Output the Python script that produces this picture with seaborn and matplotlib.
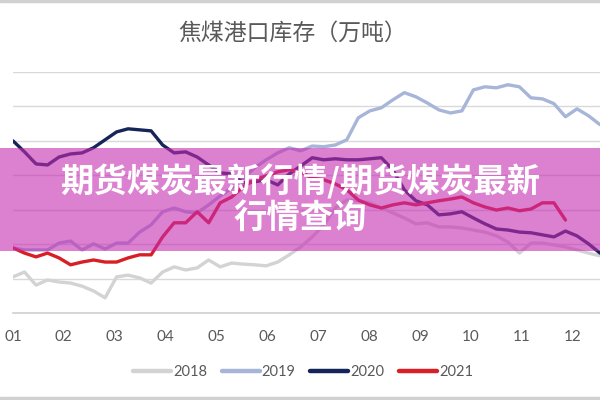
import numpy as np
import pandas as pd
import matplotlib
matplotlib.use("Agg")
import matplotlib.pyplot as plt
import seaborn as sns
from matplotlib.patches import Rectangle
from matplotlib.lines import Line2D

# 焦煤港口库存（万吨），周度数据
months = ['01', '02', '03', '04', '05', '06', '07', '08', '09', '10', '11', '12']
years = ['2018', '2019', '2020', '2021']

v2018 = [105, 119, 81, 96, 90, 87, 78, 64, 44, 105, 110, 102, 87, 119, 134, 125, 131,
         154, 134, 145, 142, 140, 137, 148, 169, 192, 221, 256, 305, 328, 326, 320, 305,
         291, 276, 259, 262, 250, 250, 247, 241, 235, 224, 206, 174, 203, 203, 198, 192,
         183, 174, 166]
v2019 = [189, 183, 183, 183, 203, 209, 183, 201, 186, 203, 203, 235, 256, 294, 305, 294,
         291, 314, 340, 363, 392, 422, 445, 465, 480, 471, 485, 483, 488, 503, 567, 587,
         596, 619, 640, 628, 610, 590, 581, 587, 648, 657, 654, 663, 657, 625, 622, 608,
         570, 593, 573, 547]
v2020 = [500, 468, 433, 430, 453, 462, 465, 480, 503, 526, 535, 532, 529, 488, 465, 468,
         453, 430, 407, 404, 378, 381, 387, 372, 404, 427, 451, 445, 448, 445, 445, 448,
         451, 416, 358, 326, 314, 285, 288, 294, 276, 259, 244, 241, 235, 233, 227, 221,
         238, 224, 201, 174]
v2021 = [189, 174, 163, 174, 160, 140, 148, 154, 148, 148, 160, 169, 169, 221, 262, 262,
         294, 262, 320, 337, 366, 387, 398, 410, 416, 410, 392, 387, 375, 358, 328, 314,
         305, 314, 320, 314, 320, 326, 331, 337, 320, 308, 299, 305, 297, 302, 320, 320,
         270]

colors = {'2018': '#d3d3d3', '2019': '#a7b5d9', '2020': '#15255a', '2021': '#d71f25'}

frames = []
for yr, vals in zip(years, [v2018, v2019, v2020, v2021]):
    frames.append(pd.DataFrame({'week': np.arange(len(vals)), 'value': vals, 'year': yr}))
df = pd.concat(frames, ignore_index=True)

sns.set_style('white')
plt.rcParams['font.family'] = ['Noto Sans CJK SC', 'DejaVu Sans']

fig = plt.figure(figsize=(6, 4), dpi=100)
ax = fig.add_axes([13 / 600, 87 / 400, 587 / 600, 241 / 400])

sns.lineplot(data=df, x='week', y='value', hue='year', palette=colors,
             linewidth=2.4, ax=ax, legend=False)

ax.set_xlim(0, 51)
ax.set_ylim(0, 700)
ax.set_yticks(np.arange(0, 701, 100))
ax.yaxis.grid(True, color='#d9d9d9', linewidth=1)
ax.set_axisbelow(True)
ax.tick_params(axis='y', left=False, labelleft=False)
ax.set_xticks(np.arange(12) * 4.42)
ax.set_xticklabels(months, fontsize=11, color='#595959', family=['Lato', 'DejaVu Sans'])
ax.tick_params(axis='x', length=0, pad=12)
for side in ['top', 'right', 'left']:
    ax.spines[side].set_visible(False)
ax.spines['bottom'].set_color('#d0d0d0')
ax.spines['bottom'].set_linewidth(1.2)
ax.set_xlabel('')
ax.set_ylabel('')

fig.text(0.488, 0.918, '焦煤港口库存（万吨）', ha='center', va='center',
         fontsize=16.5, color='#595959')

handles = [Line2D([], [], color=colors[y], linewidth=3.2) for y in years]
fig.legend(handles, years, loc='center', bbox_to_anchor=(0.505, 0.07), ncol=4,
           frameon=False, handlelength=2.6, handletextpad=0.15, columnspacing=1.0,
           prop={'family': ['Lato', 'DejaVu Sans'], 'size': 10.5}, labelcolor='#595959')

# 顶部和底部的灰色边框
fig.add_artist(Line2D([0, 1], [0.997, 0.997], color='#d0d0d0', linewidth=2.5,
                      transform=fig.transFigure))
fig.add_artist(Line2D([0, 1], [0.004, 0.004], color='#d0d0d0', linewidth=2.5,
                      transform=fig.transFigure))

# 粉色横幅
fig.add_artist(Rectangle((0, 0.3725), 1, 0.2575, transform=fig.transFigure,
                         facecolor='#c62bb2', alpha=0.6, edgecolor='none', zorder=10))
fig.text(0.5, 0.545, '期货煤炭最新行情/期货煤炭最新', ha='center', va='center',
         fontsize=24, color='white', fontweight='heavy', zorder=11)
fig.text(0.5, 0.455, '行情查询', ha='center', va='center',
         fontsize=24, color='white', fontweight='heavy', zorder=11)

fig.savefig('out.png', dpi=100)
